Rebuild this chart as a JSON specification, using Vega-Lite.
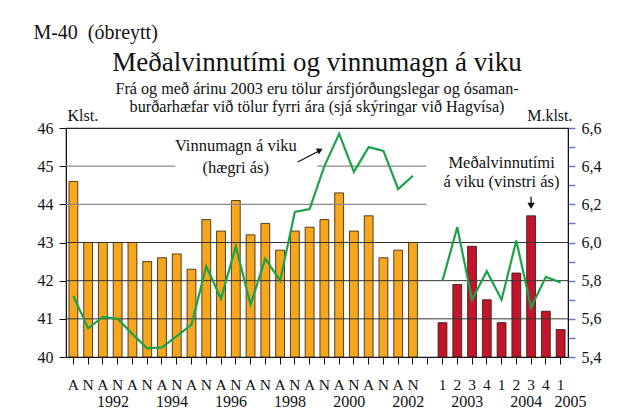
{
  "$schema": "https://vega.github.io/schema/vega-lite/v6.json",
  "background": "white",
  "padding": {"left": 33, "top": 23, "right": 10, "bottom": 5},
  "title": {"text": "M-40\u00a0 (óbreytt)", "anchor": "start", "font": "Liberation Serif", "fontSize": 20, "fontWeight": "normal", "color": "#111", "offset": 5.1, "dx": -3},
  "config": {
    "view": {"stroke": "#222", "strokeWidth": 1.2},
    "axis": {"labelFont": "Liberation Serif", "titleFont": "Liberation Serif", "labelColor": "#111", "titleColor": "#111", "labelFontSize": 16, "titleFontSize": 16, "titleFontWeight": "normal", "grid": false, "labelOverlap": false},
    "axisY": {"labelOverlap": false},
    "text": {"font": "Liberation Serif", "color": "#111"}
  },
  "vconcat": [
    {
      "width": 502,
      "height": 229,
      "title": {
        "text": "Meðalvinnutími og vinnumagn á viku",
        "subtitle": ["Frá og með árinu 2003 eru tölur ársfjórðungslegar og ósaman-", "burðarhæfar við tölur fyrri ára (sjá skýringar við Hagvísa)"],
        "font": "Liberation Serif", "fontSize": 27, "fontWeight": "normal", "color": "#111",
        "subtitleFont": "Liberation Serif", "subtitleFontSize": 16.2, "subtitleLineHeight": 18.5, "subtitlePadding": 4, "subtitleColor": "#111",
        "offset": -9.5, "anchor": "middle"
      },
      "data": {
        "values": [
          {"p": "1991A", "period": "a", "hours": 44.6, "vol": 5.72},
          {"p": "1991N", "period": "a", "hours": 43.0, "vol": 5.55},
          {"p": "1992A", "period": "a", "hours": 43.0, "vol": 5.61},
          {"p": "1992N", "period": "a", "hours": 43.0, "vol": 5.60},
          {"p": "1993A", "period": "a", "hours": 43.0, "vol": 5.52},
          {"p": "1993N", "period": "a", "hours": 42.5, "vol": 5.445},
          {"p": "1994A", "period": "a", "hours": 42.6, "vol": 5.45},
          {"p": "1994N", "period": "a", "hours": 42.7, "vol": 5.51},
          {"p": "1995A", "period": "a", "hours": 42.3, "vol": 5.57},
          {"p": "1995N", "period": "a", "hours": 43.6, "vol": 5.875},
          {"p": "1996A", "period": "a", "hours": 43.3, "vol": 5.705},
          {"p": "1996N", "period": "a", "hours": 44.1, "vol": 5.98},
          {"p": "1997A", "period": "a", "hours": 43.2, "vol": 5.675},
          {"p": "1997N", "period": "a", "hours": 43.5, "vol": 5.915},
          {"p": "1998A", "period": "a", "hours": 42.8, "vol": 5.80},
          {"p": "1998N", "period": "a", "hours": 43.3, "vol": 6.16},
          {"p": "1999A", "period": "a", "hours": 43.4, "vol": 6.175},
          {"p": "1999N", "period": "a", "hours": 43.6, "vol": 6.40},
          {"p": "2000A", "period": "a", "hours": 44.3, "vol": 6.57},
          {"p": "2000N", "period": "a", "hours": 43.3, "vol": 6.37},
          {"p": "2001A", "period": "a", "hours": 43.7, "vol": 6.50},
          {"p": "2001N", "period": "a", "hours": 42.6, "vol": 6.48},
          {"p": "2002A", "period": "a", "hours": 42.8, "vol": 6.28},
          {"p": "2002N", "period": "a", "hours": 43.0, "vol": 6.35},
          {"p": "2003-1", "period": "q", "hours": 40.9, "vol": 5.80},
          {"p": "2003-2", "period": "q", "hours": 41.9, "vol": 6.08},
          {"p": "2003-3", "period": "q", "hours": 42.9, "vol": 5.70},
          {"p": "2003-4", "period": "q", "hours": 41.5, "vol": 5.85},
          {"p": "2004-1", "period": "q", "hours": 40.9, "vol": 5.70},
          {"p": "2004-2", "period": "q", "hours": 42.2, "vol": 6.01},
          {"p": "2004-3", "period": "q", "hours": 43.7, "vol": 5.66},
          {"p": "2004-4", "period": "q", "hours": 41.2, "vol": 5.82},
          {"p": "2005-1", "period": "q", "hours": 40.72, "vol": 5.79}
        ]
      },
      "layer": [
        {
          "layer": [
            {
              "mark": {"type": "bar", "stroke": "#2a1a08", "strokeWidth": 0.8},
              "encoding": {
                "x": {
                  "field": "p", "type": "nominal", "sort": null,
                  "scale": {"domain": ["1991A","1991N","1992A","1992N","1993A","1993N","1994A","1994N","1995A","1995N","1996A","1996N","1997A","1997N","1998A","1998N","1999A","1999N","2000A","2000N","2001A","2001N","2002A","2002N","gap","2003-1","2003-2","2003-3","2003-4","2004-1","2004-2","2004-3","2004-4","2005-1"], "paddingInner": 0.4, "paddingOuter": 0.2},
                  "axis": {"orient": "bottom", "title": null, "labelExpr": "datum.value == 'gap' ? '' : slice(datum.value, -1)", "labelAngle": 0, "tickSize": 7, "tickColor": "#111", "domainColor": "#111", "labelPadding": 13, "labelFontSize": 15.5, "labelOverlap": false}
                },
                "y": {
                  "field": "hours", "type": "quantitative",
                  "scale": {"domain": [40, 46], "zero": false, "nice": false},
                  "axis": {"orient": "left", "values": [40, 41, 42, 43, 44, 45, 46], "tickCount": 7, "labelOverlap": false, "labelBound": false, "tickSize": 7, "labelPadding": 6, "tickColor": "#111", "domainColor": "#111", "title": "Klst.", "titleAngle": 0, "titleAlign": "left", "titleBaseline": "alphabetic", "titleX": 1, "titleY": -8}
                },
                "y2": {"datum": 40},
                "color": {"field": "period", "type": "nominal", "scale": {"domain": ["a", "q"], "range": ["#F7A71E", "#C3142D"]}, "legend": null}
              }
            },
            {
              "data": {"values": [{"g": 41}, {"g": 42}, {"g": 43}]},
              "mark": {"type": "rule", "color": "#333", "strokeWidth": 1},
              "encoding": {"y": {"field": "g", "type": "quantitative", "axis": {"orient": "left", "values": [40, 41, 42, 43, 44, 45, 46], "tickCount": 7, "labelOverlap": false, "labelBound": false, "tickSize": 7, "labelPadding": 6, "tickColor": "#111", "domainColor": "#111", "title": "Klst.", "titleAngle": 0, "titleAlign": "left", "titleBaseline": "alphabetic", "titleX": 1, "titleY": -8}}}
            },
            {
              "data": {"values": [{"g": 44, "s": "1991A", "e": "gap"}, {"g": 45, "s": "1991A", "e": "1994N"}, {"g": 45, "s": "1999N", "e": "gap"}]},
              "mark": {"type": "rule", "color": "#8a8a8a", "strokeWidth": 1.2},
              "encoding": {
                "x": {"field": "s", "type": "nominal", "bandPosition": -0.33},
                "x2": {"field": "e", "bandPosition": 0.35},
                "y": {"field": "g", "type": "quantitative", "axis": {"orient": "left", "values": [40, 41, 42, 43, 44, 45, 46], "tickCount": 7, "labelOverlap": false, "labelBound": false, "tickSize": 7, "labelPadding": 6, "tickColor": "#111", "domainColor": "#111", "title": "Klst.", "titleAngle": 0, "titleAlign": "left", "titleBaseline": "alphabetic", "titleX": 1, "titleY": -8}}
              }
            },
            {
              "data": {"values": [{}]},
              "mark": {"type": "text", "text": ["Vinnumagn á viku", "(hægri ás)"], "fontSize": 16.5, "lineHeight": 21.6, "baseline": "alphabetic", "align": "center"},
              "encoding": {"x": {"datum": "1996N"}, "y": {"datum": 45.39}}
            },
            {
              "data": {"values": [{}]},
              "mark": {"type": "text", "text": ["Meðalvinnutími", "á viku (vinstri ás)"], "fontSize": 16.5, "lineHeight": 18.6, "baseline": "alphabetic", "align": "center"},
              "encoding": {"x": {"datum": "2004-1"}, "y": {"datum": 44.95}}
            },
            {
              "data": {"values": [{}]},
              "mark": {"type": "rule", "color": "#111", "strokeWidth": 1.2},
              "encoding": {
                "x": {"datum": "1998N", "bandPosition": 0.82},
                "x2": {"datum": "1999N", "bandPosition": 0},
                "y": {"datum": 45.11},
                "y2": {"datum": 45.41}
              }
            },
            {
              "data": {"values": [{}]},
              "mark": {"type": "point", "shape": "triangle-up", "angle": 62, "size": 45, "filled": true, "color": "#111", "opacity": 1},
              "encoding": {"x": {"datum": "1999N", "bandPosition": 0}, "y": {"datum": 45.42}}
            },
            {
              "data": {"values": [{}]},
              "mark": {"type": "rule", "color": "#111", "strokeWidth": 1.3},
              "encoding": {"x": {"datum": "2004-3"}, "y": {"datum": 44.2}, "y2": {"datum": 43.98}}
            },
            {
              "data": {"values": [{}]},
              "mark": {"type": "point", "shape": "triangle-down", "size": 55, "filled": true, "color": "#111", "opacity": 1},
              "encoding": {"x": {"datum": "2004-3"}, "y": {"datum": 43.96}}
            }
          ]
        },
        {
          "mark": {"type": "line", "color": "#1DA24A", "strokeWidth": 2.2},
          "encoding": {
            "x": {
              "field": "p", "type": "nominal", "sort": null,
              "axis": {"orient": "bottom", "title": null, "labelExpr": "indexof(['1992A','1994A','1996A','1998A','2000A','2002A','2003-2','2004-2','2005-1'], datum.value) >= 0 ? slice(datum.value, 0, 4) : ''", "labelAngle": 0, "ticks": false, "domain": false, "labelPadding": 36, "labelOffset": 10, "labelFontSize": 16, "labelOverlap": false}
            },
            "y": {
              "field": "vol", "type": "quantitative",
              "scale": {"domain": [5.4, 6.6], "zero": false, "nice": false},
              "axis": {"orient": "right", "values": [5.4, 5.5, 5.6, 5.7, 5.8, 5.9, 6.0, 6.1, 6.2, 6.3, 6.4, 6.5, 6.6], "labelOverlap": false, "labelExpr": "round(datum.value * 10) % 2 == 0 ? replace(format(datum.value, '.1f'), '.', ',') : ''", "tickSize": 7, "tickColor": "#6a78c0", "tickWidth": 1.5, "labelPadding": 6, "domainColor": "#111", "title": "M.klst.", "titleAngle": 0, "titleAlign": "right", "titleBaseline": "alphabetic", "titleX": 4, "titleY": -8}
            },
            "detail": {"field": "period"}
          }
        }
      ],
      "resolve": {"scale": {"y": "independent"}, "axis": {"x": "independent"}}
    }
  ]
}
